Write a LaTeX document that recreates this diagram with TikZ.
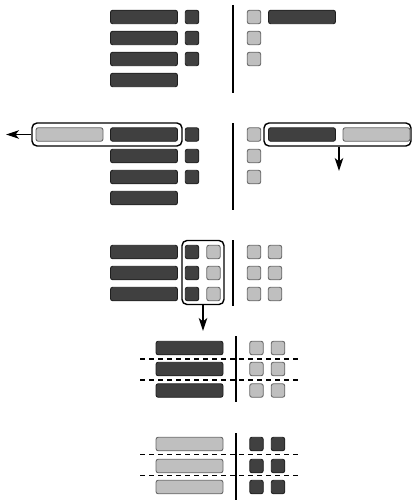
\documentclass[tikz,border=0pt]{standalone}
\usetikzlibrary{arrows.meta}
\begin{document}
\begin{tikzpicture}[x=1pt,y=-1pt,
  base/.style={draw,rounded corners=2.2pt,inner sep=0pt,line width=0.9pt},
  dbar/.style={base,fill=black!75,draw=black!88,minimum width=67pt,minimum height=13.5pt},
  lbar/.style={base,fill=black!25,draw=black!60,minimum width=67pt,minimum height=13.5pt},
  dsq/.style={base,fill=black!75,draw=black!88,minimum width=13.5pt,minimum height=13.5pt},
  lsq/.style={base,fill=black!25,draw=black!60,minimum width=13.5pt,minimum height=13.5pt},
  frame/.style={draw=black,line width=1.4pt,rounded corners=5pt,inner sep=0pt},
  sep/.style={line width=1.4pt},
  cut/.style={line width=1.2pt,dash pattern=on 5pt off 4pt},
  arr/.style={line width=1.3pt,-{Stealth[length=13pt,width=8.5pt,inset=3.5pt]}}]
\useasboundingbox (0,0) rectangle (414,500);

% ---------- section 1 ----------
\node[dbar] (a1) at (144,17) {};
\node[dbar] (a2) at (144,38) {};
\node[dbar] (a3) at (144,59) {};
\node[dbar] (a4) at (144,80) {};
\node[dsq] (as1) at (192,17) {};
\node[dsq] (as2) at (192,38) {};
\node[dsq] (as3) at (192,59) {};
\coordinate (av1) at (233,5); \coordinate (av2) at (233,93);
\draw[sep] (av1) -- (av2);
\node[lsq] (al1) at (254,17) {};
\node[lsq] (al2) at (254,38) {};
\node[lsq] (al3) at (254,59) {};
\node[dbar] (ar1) at (302,17) {};

% ---------- section 2 ----------
\node[frame,minimum width=150pt,minimum height=23pt] (bf1) at (107,134.5) {};
\node[lbar] (bl1) at (69.5,134.5) {};
\node[dbar] (b1) at (144,134.5) {};
\node[dbar] (b2) at (144,156) {};
\node[dbar] (b3) at (144,177) {};
\node[dbar] (b4) at (144,198) {};
\node[dsq] (bs1) at (192,134.5) {};
\node[dsq] (bs2) at (192,156) {};
\node[dsq] (bs3) at (192,177) {};
\coordinate (bt1) at (6,134.5);
\draw[arr] (bf1.west) -- (bt1);
\coordinate (bv1) at (233,123); \coordinate (bv2) at (233,210);
\draw[sep] (bv1) -- (bv2);
\node[lsq] (bq1) at (254,134.5) {};
\node[lsq] (bq2) at (254,156) {};
\node[lsq] (bq3) at (254,177) {};
\node[frame,minimum width=147pt,minimum height=23pt] (bf2) at (337.5,134.5) {};
\node[dbar] (br1) at (302,134.5) {};
\node[lbar] (br2) at (376.5,134.5) {};
\coordinate (bt2) at (339,171);
\draw[arr] (bt2|-bf2.south) -- (bt2);

% ---------- section 3 ----------
\node[dbar] (c1) at (144,252) {};
\node[dbar] (c2) at (144,273) {};
\node[dbar] (c3) at (144,294) {};
\node[frame,minimum width=42pt,minimum height=64pt] (cf) at (203,272.5) {};
\node[dsq] (cd1) at (192,252) {};
\node[dsq] (cd2) at (192,273) {};
\node[dsq] (cd3) at (192,294) {};
\node[lsq] (cl1) at (213.5,252) {};
\node[lsq] (cl2) at (213.5,273) {};
\node[lsq] (cl3) at (213.5,294) {};
\coordinate (cv1) at (233,240); \coordinate (cv2) at (233,306);
\draw[sep] (cv1) -- (cv2);
\node[lsq] (cr1) at (254,252) {};
\node[lsq] (cr2) at (254,273) {};
\node[lsq] (cr3) at (254,294) {};
\node[lsq] (cr4) at (275,252) {};
\node[lsq] (cr5) at (275,273) {};
\node[lsq] (cr6) at (275,294) {};
\coordinate (ct) at (203,331);
\draw[arr] (cf.south) -- (ct);

% ---------- section 4 ----------
\node[dbar] (d1) at (189.5,348) {};
\node[dbar] (d2) at (189.5,369) {};
\node[dbar] (d3) at (189.5,390.5) {};
\coordinate (dv1) at (236,336); \coordinate (dv2) at (236,402);
\draw[sep] (dv1) -- (dv2);
\node[lsq] (dl1) at (256.5,348) {};
\node[lsq] (dl2) at (256.5,369) {};
\node[lsq] (dl3) at (256.5,390.5) {};
\node[lsq] (dl4) at (278,348) {};
\node[lsq] (dl5) at (278,369) {};
\node[lsq] (dl6) at (278,390.5) {};
\coordinate (dc1a) at (140,359); \coordinate (dc1b) at (300,359);
\coordinate (dc2a) at (140,380); \coordinate (dc2b) at (300,380);
\draw[cut] (dc1a) -- (dc1b);
\draw[cut] (dc2a) -- (dc2b);

% ---------- section 5 ----------
\node[lbar] (e1) at (189.5,444) {};
\node[lbar] (e2) at (189.5,466) {};
\node[lbar] (e3) at (189.5,487) {};
\coordinate (ev1) at (236,433); \coordinate (ev2) at (236,500);
\draw[sep] (ev1) -- (ev2);
\node[dsq] (ed1) at (256.5,444) {};
\node[dsq] (ed2) at (256.5,466) {};
\node[dsq] (ed3) at (256.5,487) {};
\node[dsq] (ed4) at (278,444) {};
\node[dsq] (ed5) at (278,466) {};
\node[dsq] (ed6) at (278,487) {};
\coordinate (ec1a) at (140,454.5); \coordinate (ec1b) at (300,454.5);
\coordinate (ec2a) at (140,475.5); \coordinate (ec2b) at (300,475.5);
\draw[cut] (ec1a) -- (ec1b);
\draw[cut] (ec2a) -- (ec2b);
\end{tikzpicture}
\end{document}
